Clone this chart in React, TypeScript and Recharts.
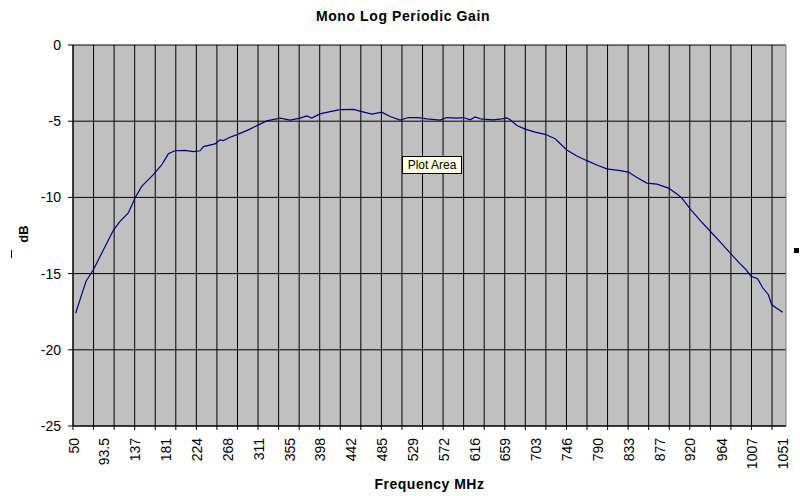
import React from 'react';
import {
  LineChart, Line,
  XAxis, YAxis, CartesianGrid, ReferenceLine,
} from 'recharts';

// frequency points (MHz)
const FREQ_MHZ = [
  53, 63.8, 67.7, 78, 92.1, 106.2, 115.6, 127.3, 136.8, 146.2,
  162.6, 174.4, 183.8, 193.2, 207.3, 219.1, 228.5, 233.2, 249.7, 256.7,
  261.4, 270.8, 282.5, 296.6, 310.8, 322.6, 341.4, 355.5, 369.6, 379.1,
  386.1, 397.8, 412, 426.1, 444.9, 456.7, 470.8, 484.9, 496.6, 510.7,
  522.4, 536.5, 548.4, 567.1, 576.6, 590.7, 600, 609.5, 616.5, 626,
  642.4, 654.2, 661.3, 665.9, 675.4, 687.1, 701.2, 715.3, 729.4, 745.9,
  760, 774.1, 788.2, 802.3, 821.1, 832.8, 844.7, 858.8, 872.9, 889.3,
  901.1, 907.5, 921, 935.1, 949.1, 963.3, 977.4, 989, 998.5, 1005.6,
  1015, 1022.1, 1030, 1034.8, 1040.9, 1050.3,
];

// gain (dB) at each frequency above
const GAIN_DB = [
  -17.6, -16.05, -15.5, -14.75, -13.45, -12.16, -11.57, -11.02, -10.04, -9.28,
  -8.51, -7.86, -7.14, -6.94, -6.92, -6.99, -6.94, -6.67, -6.49, -6.22,
  -6.27, -6.05, -5.85, -5.57, -5.24, -4.98, -4.8, -4.93, -4.8, -4.65,
  -4.8, -4.52, -4.37, -4.24, -4.22, -4.37, -4.54, -4.41, -4.69, -4.93,
  -4.76, -4.76, -4.85, -4.93, -4.76, -4.8, -4.76, -4.91, -4.72, -4.87,
  -4.91, -4.85, -4.78, -4.91, -5.28, -5.52, -5.72, -5.86, -6.15, -6.89,
  -7.28, -7.59, -7.87, -8.13, -8.24, -8.34, -8.69, -9.06, -9.13, -9.39,
  -9.77, -10.02, -10.82, -11.57, -12.27, -12.99, -13.71, -14.3, -14.74, -15.17,
  -15.34, -15.93, -16.37, -17.03, -17.24, -17.53,
];

const X_DOMAIN = [49.3, 1055];

const X_LABELS = [
  50, 93.5, 137, 181, 224, 268, 311, 355, 398, 442, 485, 529,
  572, 616, 659, 703, 746, 790, 833, 877, 920, 964, 1007, 1051,
];

// category gridlines / tick marks (every 20 categories)
const X_GRID = [
  49.3, 78.3, 107.3, 136.3, 165.3, 194.3, 223.3, 252.3, 281.3, 310.3,
  339.3, 368.3, 397.3, 426.3, 455.3, 484.3, 513.3, 542.3, 571.3, 600.3,
  629.3, 658.3, 687.3, 716.3, 745.3, 774.3, 803.3, 832.3, 861.3, 890.3,
  919.3, 948.3, 977.3, 1006.3, 1035.3,
];

const Y_TICKS = [0, -5, -10, -15, -20, -25];

const FONT = '"Liberation Sans", Arial, sans-serif';

const data = FREQ_MHZ.map((f, i) => ({ f, db: GAIN_DB[i] }));
const ALL_X_TICKS = [...X_GRID, ...X_LABELS].sort((a, b) => a - b);

const FreqTick = ({ x, y, payload }: any) => {
  const v = payload.value;
  const isGrid = X_GRID.includes(v);
  const isLabel = X_LABELS.includes(v);
  return (
    <g>
      {isGrid && <line x1={x} y1={y - 12} x2={x} y2={y - 8} stroke="#000" />}
      {isLabel && (
        <text
          x={x}
          y={y}
          dy="0.36em"
          textAnchor="end"
          transform={`rotate(-90, ${x}, ${y})`}
          fontSize={14}
          fontFamily={FONT}
          fill="#000"
        >
          {v}
        </text>
      )}
    </g>
  );
};

export default function App() {
  return (
    <div style={{ position: 'absolute', left: 0, top: 0, width: 800, height: 496, background: '#fff', fontFamily: FONT }}>
      <div style={{ position: 'absolute', left: 0, top: 8, width: 806, textAlign: 'center', fontSize: 14, fontWeight: 'bold', letterSpacing: 0.6, color: '#000' }}>
        Mono Log Periodic Gain
      </div>

      <LineChart width={800} height={496} data={data} margin={{ top: 45, right: 14, left: 10, bottom: 25 }}>
        <CartesianGrid
          fill="#C0C0C0"
          fillOpacity={1}
          stroke="#000"
          verticalValues={X_GRID}
          horizontalValues={Y_TICKS}
        />
        <XAxis
          type="number"
          dataKey="f"
          domain={X_DOMAIN}
          ticks={ALL_X_TICKS}
          interval={0}
          height={45}
          tickSize={4}
          tickMargin={8}
          tickLine={false}
          axisLine={{ stroke: '#000' }}
          tick={<FreqTick />}
          allowDataOverflow
        />
        <YAxis
          type="number"
          domain={[-25, 0]}
          ticks={Y_TICKS}
          interval={0}
          width={63}
          tickSize={5}
          tickMargin={7}
          axisLine={{ stroke: '#000' }}
          tickLine={{ stroke: '#000' }}
          tick={{ fontSize: 14, fill: '#000', fontFamily: FONT }}
        />
        <ReferenceLine x={X_DOMAIN[1]} stroke="#808080" />
        <Line
          type="linear"
          dataKey="db"
          stroke="#000080"
          strokeWidth={1.2}
          dot={false}
          isAnimationActive={false}
        />
      </LineChart>

      <div style={{ position: 'absolute', left: 4, top: 226, width: 40, textAlign: 'center', transform: 'rotate(-90deg)', fontSize: 13, fontWeight: 'bold', lineHeight: '16px' }}>
        dB
      </div>
      <div style={{ position: 'absolute', left: 11, top: 250, width: 1, height: 8, background: '#000' }} />

      <div style={{ position: 'absolute', left: 73, top: 476, width: 713, textAlign: 'center', fontSize: 14, fontWeight: 'bold', letterSpacing: 0.5 }}>
        Frequency MHz
      </div>

      <div style={{ position: 'absolute', left: 402, top: 156, width: 58, height: 16, background: '#FFFFE1', border: '1px solid #000', fontSize: 12, lineHeight: '16px', textAlign: 'center' }}>
        Plot Area
      </div>

      <div style={{ position: 'absolute', left: 794, top: 248, width: 5, height: 5, background: '#000' }} />
    </div>
  );
}
